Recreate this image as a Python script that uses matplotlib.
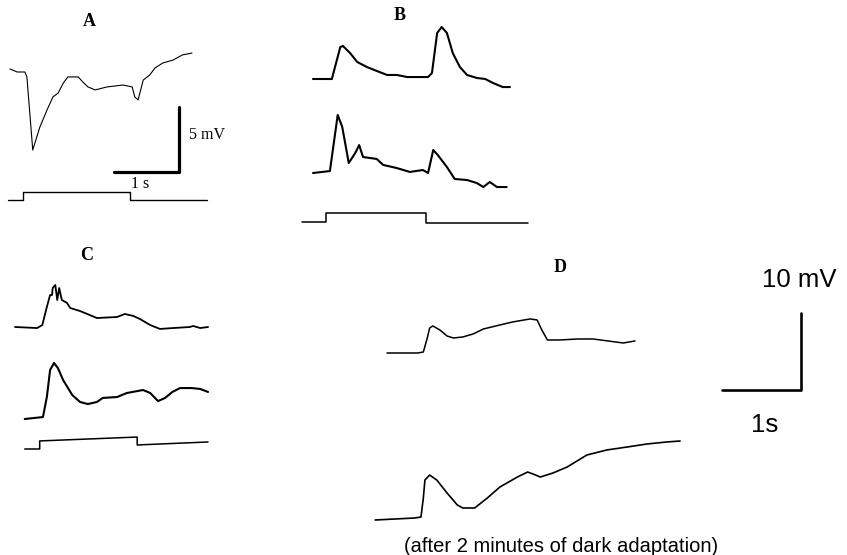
import numpy as np
import matplotlib
matplotlib.use("Agg")
import matplotlib.pyplot as plt
from matplotlib.transforms import Affine2D

# ---- recorded traces (time in s, potential in mV, read off the figure) ----
# panel A: single response, hyperpolarising
a_t = [0, 0.11, 0.23, 0.26, 0.35, 0.46, 0.57, 0.66, 0.74, 0.82, 0.89, 1.05, 1.12,
       1.20, 1.31, 1.49, 1.74, 1.88, 1.92, 1.97, 2.05, 2.15, 2.23, 2.35, 2.51, 2.65, 2.80]
a_v = [0.23, 0, 0, -0.38, -6.0, -4.23, -2.92, -1.92, -1.62, -0.85, -0.38, -0.38, -0.77,
       -1.15, -1.38, -1.15, -1.0, -1.15, -1.92, -2.15, -0.62, -0.23, 0.31, 0.69, 0.92, 1.31, 1.46]

# panel B: two responses
b1_t = [0, 0.29, 0.42, 0.46, 0.57, 0.68, 0.83, 0.98, 1.14, 1.29, 1.45, 1.77, 1.83,
        1.91, 1.98, 2.06, 2.15, 2.26, 2.37, 2.52, 2.65, 2.77, 2.92, 3.03]
b1_v = [0, 0, 2.46, 2.54, 2.0, 1.31, 0.92, 0.62, 0.31, 0.31, 0.15, 0.15, 0.46,
        3.54, 4.0, 3.54, 2.0, 0.92, 0.31, 0.08, 0, -0.31, -0.62, -0.62]
b2_t = [0, 0.26, 0.38, 0.45, 0.55, 0.65, 0.71, 0.77, 0.98, 1.08, 1.29, 1.49, 1.69,
        1.77, 1.85, 1.92, 2.06, 2.18, 2.37, 2.52, 2.62, 2.72, 2.83, 2.98]
b2_v = [0, 0.15, 4.46, 3.54, 0.77, 1.54, 2.15, 1.23, 1.08, 0.62, 0.38, 0.08, 0.23,
        0, 1.77, 1.38, 0.46, -0.46, -0.54, -0.77, -1.08, -0.69, -1.08, -1.08]

# panel C: two responses
c1_t = [0, 0.34, 0.42, 0.49, 0.54, 0.57, 0.58, 0.62, 0.65, 0.68, 0.72, 0.80, 0.85,
        1.0, 1.15, 1.26, 1.57, 1.69, 1.82, 1.92, 2.08, 2.23, 2.43, 2.69, 2.74, 2.85, 2.97]
c1_v = [0, -0.08, 0.15, 1.54, 2.46, 2.46, 3.0, 3.23, 2.08, 3.0, 2.08, 1.85, 1.46,
        1.23, 0.92, 0.69, 0.77, 1.0, 0.85, 0.62, 0.15, -0.15, -0.08, 0, 0.08, -0.08, 0]
c2_t = [0.15, 0.43, 0.49, 0.54, 0.60, 0.66, 0.74, 0.88, 1.0, 1.12, 1.26, 1.35, 1.57,
        1.72, 1.97, 2.08, 2.20, 2.31, 2.42, 2.54, 2.72, 2.85, 2.97]
c2_v = [0, 0.15, 1.69, 3.77, 4.31, 3.92, 3.0, 1.85, 1.31, 1.15, 1.31, 1.62, 1.69,
        2.0, 2.23, 2.0, 1.38, 1.62, 2.08, 2.38, 2.38, 2.31, 2.08]

# panel D: before / after 2 min dark adaptation
d1_t = [0, 0.39, 0.46, 0.51, 0.54, 0.58, 0.67, 0.76, 0.84, 0.96, 1.09, 1.22, 1.43,
        1.59, 1.81, 1.90, 1.96, 2.03, 2.19, 2.41, 2.61, 2.99, 3.14]
d1_v = [0, 0, 0.13, 1.95, 3.25, 3.51, 2.99, 2.21, 1.95, 2.08, 2.47, 3.12, 3.64,
        4.03, 4.42, 4.29, 2.99, 1.69, 1.69, 1.82, 1.82, 1.30, 1.56]
d2_t = [-0.15, 0.35, 0.43, 0.46, 0.48, 0.54, 0.63, 0.76, 0.89, 0.96, 1.11, 1.27, 1.43,
        1.65, 1.78, 1.85, 1.94, 2.10, 2.28, 2.53, 2.78, 3.04, 3.29, 3.54, 3.71]
d2_v = [0, 0.26, 0.39, 2.86, 5.19, 5.84, 5.19, 3.51, 1.95, 1.56, 1.56, 2.86, 4.29,
        5.58, 6.23, 5.97, 5.58, 6.10, 6.88, 8.44, 9.09, 9.48, 9.87, 10.13, 10.26]

# light stimulus monitor traces (arbitrary units)
sa_t = [-0.03, 0.2, 0.2, 1.85, 1.85, 3.03]
sa_v = [0, 0, 0.62, 0.62, 0, 0]
sb_t = [-0.17, 0.2, 0.2, 1.74, 1.74, 3.31]
sb_v = [0, 0, 0.69, 0.69, -0.08, -0.08]
sc_t = [0.15, 0.38, 0.38, 1.88, 1.88, 2.97]
sc_v = [0, 0, 0.62, 0.92, 0.31, 0.54]

# ---- layout: (x of t=0 px, y of v=0 px, px per s, px per mV) ----
W, H = 847, 555
ABC = (65, 13)
D = (79, 7.7)

fig = plt.figure(figsize=(W / 100, H / 100), dpi=100)
ax = fig.add_axes([0, 0, 1, 1])
ax.set_xlim(0, W)
ax.set_ylim(H, 0)
ax.axis("off")


def trace(t, v, x0, y0, scale, lw=1.2):
    sx, sy = scale
    tr = Affine2D().scale(sx, -sy).translate(x0, y0) + ax.transData
    ax.plot(t, v, color="black", lw=lw, transform=tr,
            solid_joinstyle="round", solid_capstyle="round")
    return tr


trace(a_t, a_v, 10, 72, ABC, lw=0.8)
trace(sa_t, sa_v, 10, 200, ABC, lw=1.0)
trace(b1_t, b1_v, 313, 79, ABC, lw=1.5)
trace(b2_t, b2_v, 313, 173, ABC, lw=1.5)
trace(sb_t, sb_v, 313, 222, ABC, lw=1.1)
trace(c1_t, c1_v, 15, 327, ABC, lw=1.3)
trace(c2_t, c2_v, 15, 419, ABC, lw=1.5)
trace(sc_t, sc_v, 15, 449, ABC, lw=1.1)
trace(d1_t, d1_v, 387, 353, D, lw=1.1)
trace(d2_t, d2_v, 387, 520, D, lw=1.2)

# scale bars: panel A (1 s, 5 mV) and panel D (1 s, 10 mV)
trace([-1, 0, 0], [0, 0, 5], 179, 172, ABC, lw=2.3)
trace([-1, 0, 0], [0, 0, 10], 801, 390, D, lw=1.9)

serif = "Liberation Serif"
sans = "Liberation Sans"
ax.text(89, 22, "A", fontsize=13, fontweight="bold", family=serif, ha="center", va="center")
ax.text(400, 15, "B", fontsize=13, fontweight="bold", family=serif, ha="center", va="center")
ax.text(87, 256, "C", fontsize=13, fontweight="bold", family=serif, ha="center", va="center")
ax.text(560, 268, "D", fontsize=13, fontweight="bold", family=serif, ha="center", va="center")
ax.text(189, 135, "5 mV", fontsize=11.5, family=serif, ha="left", va="center")
ax.text(140, 184, "1 s", fontsize=11.5, family=serif, ha="center", va="center")
ax.text(799, 280, "10 mV", fontsize=18.5, family=sans, ha="center", va="center")
ax.text(765, 425, "1s", fontsize=18.5, family=sans, ha="center", va="center")
ax.text(561, 546, "(after 2 minutes of dark adaptation)", fontsize=14.5,
        family=sans, ha="center", va="center")

fig.savefig("out.png", dpi=100)
